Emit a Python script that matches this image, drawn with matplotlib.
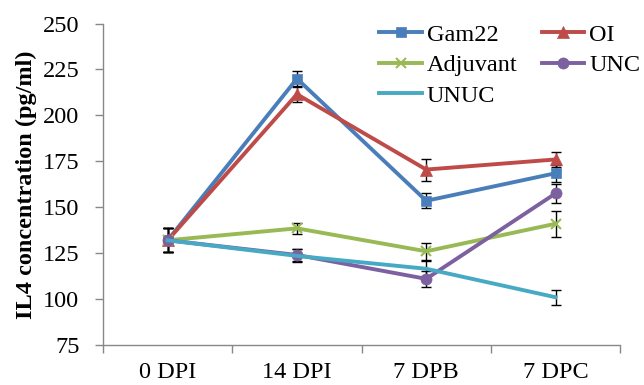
import matplotlib.pyplot as plt
import numpy as np

plt.rcParams['font.family'] = ['Liberation Serif', 'DejaVu Serif']

# time points
categories = ['0 DPI', '14 DPI', '7 DPB', '7 DPC']

# IL4 means per group
gam22 = [132, 220, 153.5, 168.5]
oi = [132, 211.5, 170.5, 176]
adjuvant = [132, 138.5, 126, 141]
unc = [132, 124, 111, 157.5]
unuc = [132, 123.5, 116.5, 101]

# standard errors
gam22_err = [6.5, 4, 4, 4.5]
oi_err = [6.5, 4, 6, 4]
adjuvant_err = [6.5, 3, 4.5, 7]
unc_err = [6.5, 3.5, 4.5, 5]
unuc_err = [6.5, 3.5, 4, 4]

series = [
    ('Gam22', gam22, gam22_err, '#4A7EBB', 's', 7.5),
    ('OI', oi, oi_err, '#BE4B48', '^', 8),
    ('Adjuvant', adjuvant, adjuvant_err, '#98B954', 'x', 7),
    ('UNC', unc, unc_err, '#7D60A0', 'o', 8),
    ('UNUC', unuc, unuc_err, '#46AAC5', None, 0),
]

fs = 17.5

fig = plt.figure(figsize=(6.44, 3.85), dpi=100)
ax = fig.add_axes([0.1600, 0.1039, 0.8030, 0.8350])

x = np.arange(len(categories))
handles = {}
for name, vals, err, color, marker, ms in series:
    ax.errorbar(x, vals, yerr=err, fmt='none', ecolor='black', elinewidth=1.0,
                capsize=3.5, capthick=1.0, zorder=2)
    line, = ax.plot(x, vals, color=color, lw=2.8, marker=marker, markersize=ms,
                    markeredgewidth=1.5 if marker == 'x' else 0.5, label=name, zorder=3)
    handles[name] = line

ax.set_xlim(-0.5, 3.5)
ax.set_ylim(75, 250)
ax.set_yticks(np.arange(75, 251, 25))
ax.set_xticks(x)
ax.set_xticklabels(categories)
ax.set_xticks([-0.5, 0.5, 1.5, 2.5, 3.5], minor=True)
ax.tick_params(axis='x', which='major', length=0, labelsize=fs, pad=12)
ax.tick_params(axis='x', which='minor', length=6, color='#888888', width=1)
ax.tick_params(axis='y', length=6, color='#888888', width=1, labelsize=fs, pad=11)

for s in ['top', 'right']:
    ax.spines[s].set_visible(False)
for s in ['left', 'bottom']:
    ax.spines[s].set_color('#888888')
    ax.spines[s].set_linewidth(1)

ax.set_ylabel('IL4 concentration (pg/ml)', fontsize=fs, fontweight='bold', labelpad=4)

order = ['Gam22', 'Adjuvant', 'UNUC', 'OI', 'UNC']
ax.legend([handles[k] for k in order], order, ncol=2, loc='upper right',
          bbox_to_anchor=(1.039, 1.0), frameon=False, fontsize=fs,
          handlelength=1.75, handletextpad=0.2, columnspacing=1.0,
          labelspacing=0.35, borderaxespad=0, borderpad=0)

fig.savefig('out.png', dpi=100)
